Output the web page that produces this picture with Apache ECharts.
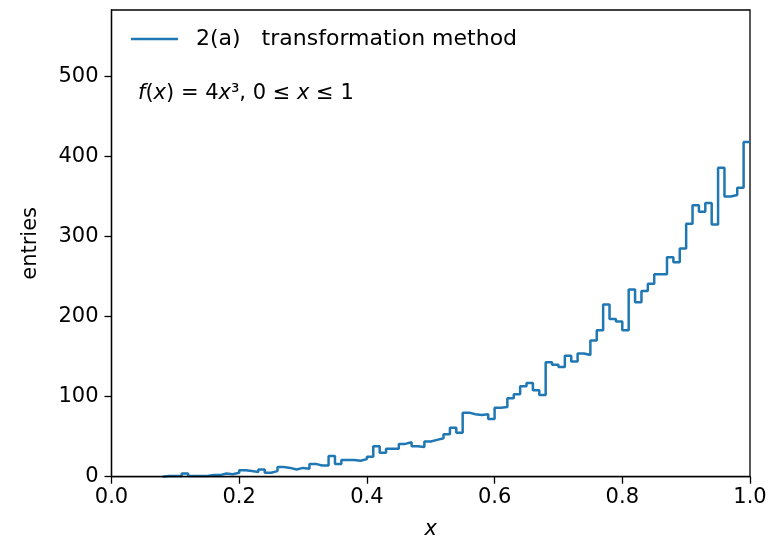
<!DOCTYPE html>
<html>
<head>
<meta charset="utf-8">
<script src="https://cdn.jsdelivr.net/npm/echarts@6/dist/echarts.min.js"></script>
<style>
  html, body { margin: 0; padding: 0; background: #fff; }
  #chart { width: 781px; height: 536px; }
</style>
</head>
<body>
<div id="chart"></div>
<script>
// ----------------------------------------------
// datos del histograma (100 bins de 0 a 1)
// ----------------------------------------------
const binStart = 0.0;
const binWidth = 0.01;
const counts = [
    0, 0, 0, 0, 0, 0, 0, 0, 1, 1,
    1, 4, 1, 1, 1, 2, 2, 4, 3, 5,
    8, 7, 6, 9, 5, 7, 12, 11, 9, 11,
    10, 16, 14, 14, 26, 16, 21, 21, 20, 22,
    25, 38, 30, 35, 35, 41, 43, 38, 37, 44,
    46, 48, 53, 61, 55, 80, 78, 77, 78, 72,
    86, 87, 98, 103, 113, 117, 108, 102, 143, 140,
    137, 151, 144, 154, 152, 170, 183, 215, 197, 194,
    183, 234, 218, 232, 241, 253, 253, 274, 268, 285,
    316, 339, 331, 342, 315, 386, 350, 352, 361, 418
];
const xTicks = [0, 0.2, 0.4, 0.6, 0.8, 1.0];
const yTicks = [0, 100, 200, 300, 400, 500];
const serieNombre = '2(a)   transformation method';

// puntos del contorno tipo "step" (los bins vacíos del principio quedan bajo el eje)
const primero = counts.findIndex(c => c > 0);
const puntos = [[binStart + primero * binWidth, 0]];
counts.forEach((c, i) => {
    if (i >= primero) puntos.push([binStart + i * binWidth, c]);
});
puntos.push([binStart + counts.length * binWidth, counts[counts.length - 1]]);

const chart = echarts.init(document.getElementById('chart'));
const fuente = 'DejaVu Sans';
const azul = '#1f77b4';

const option = {
    animation: false,
    grid: {
        left: 111.5, right: 31, top: 10, bottom: 59.3, outerBoundsMode: 'none',
        show: true, borderColor: '#000', borderWidth: 1.3
    },
    legend: {
        left: 131, top: 28, padding: 0,
        icon: 'rect', itemWidth: 47, itemHeight: 2.5,
        data: [serieNombre],
        textStyle: { fontFamily: fuente, fontSize: 22, color: '#000', padding: [0, 0, 0, 13] }
    },
    xAxis: {
        type: 'value', min: xTicks[0], max: xTicks[xTicks.length - 1], interval: 0.2, z: 10,
        name: 'x', nameLocation: 'middle', nameGap: 42,
        nameTextStyle: { fontFamily: fuente, fontSize: 21, fontStyle: 'italic', color: '#000' },
        axisLine: { lineStyle: { color: '#000', width: 1.3 } },
        axisTick: { length: 7, lineStyle: { color: '#000', width: 1.3 } },
        splitLine: { show: false },
        axisLabel: { fontFamily: fuente, fontSize: 21, color: '#000', margin: 10, formatter: v => v.toFixed(1) }
    },
    yAxis: {
        type: 'value', min: 0, max: 583, interval: 100, z: 10,
        name: 'entries', nameLocation: 'middle', nameGap: 70,
        nameTextStyle: { fontFamily: fuente, fontSize: 21, color: '#000' },
        axisLine: { show: true, lineStyle: { color: '#000', width: 1.3 } },
        axisTick: { show: true, length: 7, customValues: yTicks, lineStyle: { color: '#000', width: 1.3 } },
        splitLine: { show: false },
        axisLabel: { fontFamily: fuente, fontSize: 21, color: '#000', margin: 13, customValues: yTicks }
    },
    graphic: [{
        type: 'text', left: 138, top: 83, z: 20,
        style: {
            text: '{i|f}({i|x}) = 4{i|x}³, 0 ≤ {i|x} ≤ 1',
            fontFamily: fuente, fontSize: 21, fill: '#000',
            rich: { i: { fontFamily: fuente, fontSize: 21, fontStyle: 'italic' } }
        }
    }],
    series: [{
        name: serieNombre, type: 'line', step: 'end', symbol: 'none',
        data: puntos,
        lineStyle: { color: azul, width: 2.5 },
        itemStyle: { color: azul }
    }]
};

chart.setOption(option);
</script>
</body>
</html>
